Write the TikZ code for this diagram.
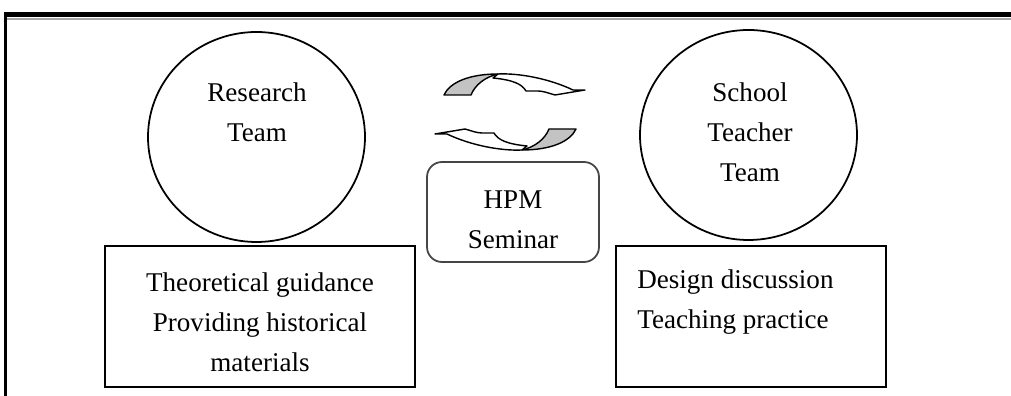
\documentclass[tikz,border=0pt]{standalone}
\usepackage{fontspec}
\setmainfont{Liberation Serif}
\usetikzlibrary{positioning,shapes.geometric}
\definecolor{arrowgray}{RGB}{195,195,195}
\definecolor{framegray}{RGB}{70,70,70}

\tikzset{
  arrowline/.style={line width=0.8pt,line join=round},
  swaparrow/.pic={
    \begin{scope}[x=0.02cm,y=-0.02cm]
     \draw[arrowline,fill=white] (-17,-34) -- (-12,-38)
      .. controls (10,-39) and (40,-33) .. (63,-22) -- (75,-22) -- (45,-17)
      .. controls (38,-19) and (33,-21) .. (28,-21) -- (16,-21)
      .. controls (12,-28) and (3,-32) .. (-17,-34) -- cycle;
     \draw[arrowline,fill=arrowgray] (-66,-17)
      .. controls (-60,-30) and (-40,-38) .. (-12,-38)
      .. controls (-25,-35) and (-35,-27) .. (-39,-17) -- cycle;
    \end{scope}
  }
}

\begin{document}
\begin{tikzpicture}[line cap=round,
  every node/.style={font=\fontsize{15.4}{22.8}\selectfont}]
 \useasboundingbox (0,0) rectangle (20.22,-7.92);
 % frame, cut off at right and bottom
 \draw[black!35,line width=0.04cm,line cap=butt] (0.14,-0.38) -- (20.22,-0.38);
 \draw[line width=0.1cm,line cap=butt] (0.08,-0.3) -- (20.22,-0.3);
 \draw[line width=0.06cm,line cap=butt] (0.12,-0.25) -- (0.12,-7.92);
 % teams
 \node[draw,ellipse,line width=1pt,minimum width=4.34cm,
  minimum height=4.2cm] (rt) at (5.13,-2.74) {};
 \node[align=center] (rtname) at (5.14,-2.25) {Research\\Team};
 \node[draw,ellipse,line width=1pt,minimum width=4.34cm,
  minimum height=4.2cm] (st) at (14.97,-2.70) {};
 \node[align=center] (stname) at (15.0,-2.65) {School\\Teacher\\Team};
 % seminar and exchange arrows
 \node[draw=framegray,rounded corners=0.3cm,line width=1pt,
  minimum width=3.44cm,minimum height=2cm] (hpm) at (10.26,-4.24) {};
 \node[align=center] (hpmname) at (10.26,-4.40) {HPM\\Seminar};
 \pic (toright) at (10.2,-2.24) {swaparrow};
 \pic[rotate=180] (toleft) at (10.2,-2.24) {swaparrow};
 % tasks
 \node[draw,line width=1.4pt,minimum width=6.2cm,
  minimum height=2.82cm] (tg) at (5.2,-6.33) {};
 \node[align=center] (tgtext) at (5.2,-6.45)
  {Theoretical guidance\\Providing historical\\materials};
 \node[draw,line width=1.4pt,minimum width=5.4cm,
  minimum height=2.82cm] (dd) at (15.02,-6.33) {};
 \node[anchor=west,align=left,inner sep=0pt] (ddtext) at (12.74,-6.04)
  {Design discussion\\Teaching practice};
\end{tikzpicture}
\end{document}
